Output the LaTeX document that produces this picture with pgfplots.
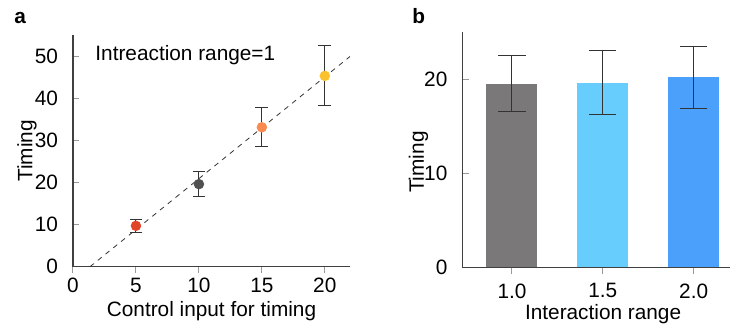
\documentclass[border=0pt]{standalone}
\usepackage{pgfplots}
\pgfplotsset{compat=1.18}
\usepackage{fontspec}
\setmainfont{Liberation Sans}
\definecolor{axgray}{HTML}{404040}
\definecolor{tkgray}{HTML}{9A9A9A}
\definecolor{errgray}{HTML}{333333}
\definecolor{cred}{HTML}{E0452A}
\definecolor{cdark}{HTML}{505050}
\definecolor{corange}{HTML}{F98A50}
\definecolor{cyellow}{HTML}{FBC12E}
\definecolor{bgray}{HTML}{7A7878}
\definecolor{blight}{HTML}{66CDFC}
\definecolor{bblue}{HTML}{4AA0FA}
\begin{document}
\fontsize{10.4}{12.5}\selectfont
\begin{tikzpicture}
\useasboundingbox (0,0) rectangle (368pt,164.5pt);
\pgfplotsset{common/.style={
  scale only axis,
  axis lines=left,
  axis line style={draw=axgray, line width=0.55pt, -},
  tick align=outside,
  major tick length=3.2pt,
  tick style={draw=tkgray, line width=0.5pt},
  ytick style={xshift=3.2pt, draw=tkgray},
  /pgf/number format/assume math mode=true,
  tick label style={font=\fontsize{10.4}{12.5}\selectfont, text=black},
  label style={font=\fontsize{10.4}{12.5}\selectfont},
  yticklabel style={xshift=-0.6pt},
  clip=false,
}}
% Panel a
\begin{axis}[common,
  at={(36.5pt,31.15pt)}, anchor=south west,
  width=138.5pt, height=115.85pt,
  xmin=0, xmax=22, ymin=0, ymax=55,
  xtick={0,5,10,15,20}, ytick={0,10,20,30,40,50},
  xticklabel style={yshift=1pt},
  xlabel={Control input for timing}, ylabel={Timing},
  xlabel style={at={(axis description cs:0.5,-0.19)}, anchor=center},
  ylabel style={at={(axis description cs:-0.166,0.5)}, anchor=center},
]
\addplot[draw=errgray, line width=0.4pt, dash pattern=on 2.5pt off 2.5pt] coordinates {(1.35,0) (22,49.9)};
\addplot[only marks, mark=*, mark size=2.4pt, mark options={draw=cred, fill=cred},
  error bars/.cd, y dir=both, y explicit, error bar style={draw=errgray, line width=0.5pt},
  error mark options={rotate=90, mark size=3.2pt, draw=errgray, line width=0.5pt}]
  coordinates {(5,9.7) +- (0,1.5)};
\addplot[only marks, mark=*, mark size=2.4pt, mark options={draw=cdark, fill=cdark},
  error bars/.cd, y dir=both, y explicit, error bar style={draw=errgray, line width=0.5pt},
  error mark options={rotate=90, mark size=3.2pt, draw=errgray, line width=0.5pt}]
  coordinates {(10,19.6) +- (0,3.0)};
\addplot[only marks, mark=*, mark size=2.4pt, mark options={draw=corange, fill=corange},
  error bars/.cd, y dir=both, y explicit, error bar style={draw=errgray, line width=0.5pt},
  error mark options={rotate=90, mark size=3.2pt, draw=errgray, line width=0.5pt}]
  coordinates {(15,33.1) +- (0,4.6)};
\addplot[only marks, mark=*, mark size=2.4pt, mark options={draw=cyellow, fill=cyellow},
  error bars/.cd, y dir=both, y explicit, error bar style={draw=errgray, line width=0.5pt},
  error mark options={rotate=90, mark size=3.2pt, draw=errgray, line width=0.5pt}]
  coordinates {(20,45.3) +- (0,7.1)};
\node[anchor=west, inner sep=0pt] at (axis cs:1.75,50.3) {Intreaction range=1};
\end{axis}
% Panel b
\begin{axis}[common,
  at={(231.15pt,30.85pt)}, anchor=south west,
  width=133.85pt, height=117.65pt,
  xmin=-0.547, xmax=2.40, ymin=0, ymax=25,
  xtick={0,1,2}, xticklabels={1.0,1.5,2.0}, ytick={0,10,20},
  xticklabel style={yshift=-1.3pt},
  xlabel={Interaction range}, ylabel={Timing},
  xlabel style={at={(axis description cs:0.526,-0.2)}, anchor=center},
  ylabel style={at={(axis description cs:-0.164,0.447)}, anchor=center},
  ybar, bar width=25.5pt, bar shift=0pt,
]
\addplot[draw=none, fill=bgray,
  error bars/.cd, y dir=both, y explicit, error bar style={draw=errgray, line width=0.5pt},
  error mark options={rotate=90, mark size=6.8pt, draw=errgray, line width=0.5pt}]
  coordinates {(0,19.5) += (0,3.0) -= (0,2.95)};
\addplot[draw=none, fill=blight,
  error bars/.cd, y dir=both, y explicit, error bar style={draw=errgray, line width=0.5pt},
  error mark options={rotate=90, mark size=6.8pt, draw=errgray, line width=0.5pt}]
  coordinates {(1,19.57) += (0,3.43) -= (0,3.37)};
\addplot[draw=none, fill=bblue,
  error bars/.cd, y dir=both, y explicit, error bar style={draw=errgray, line width=0.5pt},
  error mark options={rotate=90, mark size=6.8pt, draw=errgray, line width=0.5pt}]
  coordinates {(2,20.2) += (0,3.3) -= (0,3.3)};
\end{axis}
\node[anchor=base west, inner sep=0pt, font=\fontsize{10.4}{12.5}\selectfont\bfseries] at (7pt,153pt) {a};
\node[anchor=base west, inner sep=0pt, font=\fontsize{10.4}{12.5}\selectfont\bfseries] at (206pt,153pt) {b};
\end{tikzpicture}
\end{document}
